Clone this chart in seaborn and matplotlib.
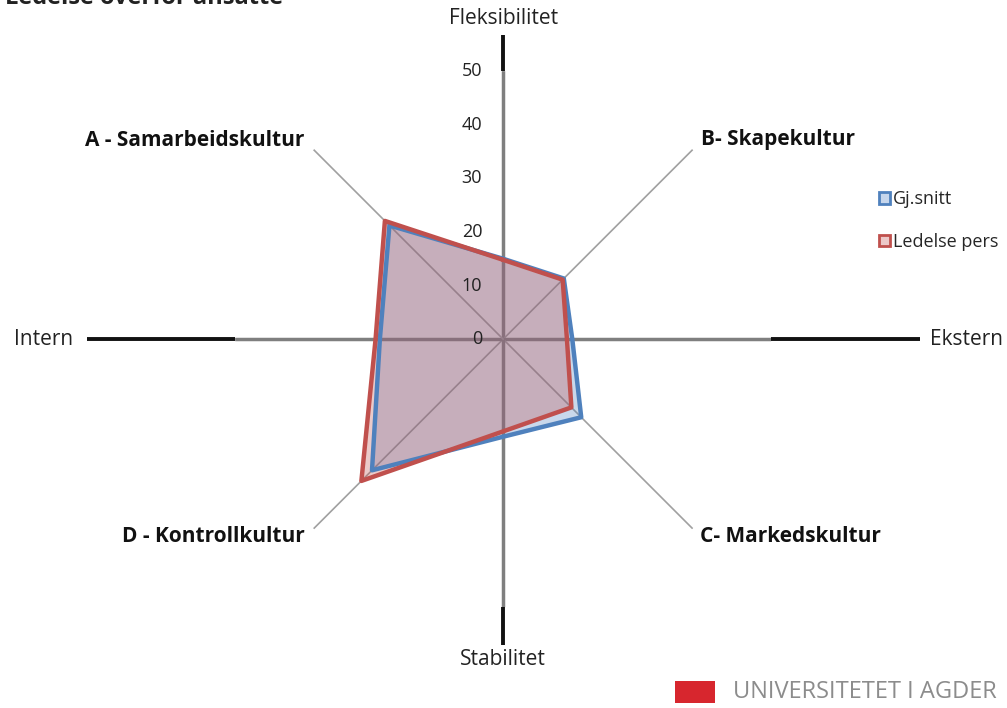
import numpy as np
import pandas as pd
import seaborn as sns
import matplotlib.pyplot as plt
from matplotlib.patches import Patch, Rectangle
from matplotlib.transforms import offset_copy

# data (clockwise from top)
spokes = ["Fleksibilitet", "B- Skapekultur", "Ekstern", "C- Markedskultur",
          "Stabilitet", "D - Kontrollkultur", "Intern", "A - Samarbeidskultur"]
gj_snitt = [15.0, 16.0, 12.9, 20.6, 18.2, 34.6, 23.0, 30.0]
ledelse_pers = [14.8, 15.7, 11.9, 18.0, 17.2, 37.4, 23.8, 31.2]
r_ticks = [0, 10, 20, 30, 40, 50]
series_names = ["Gj.snitt", "Ledelse pers"]

blue = "#4F81BD"
red = "#C0504D"

sns.set_style("white")
plt.rcParams["font.family"] = ["Open Sans", "DejaVu Sans"]

angles = np.linspace(0, 2 * np.pi, len(spokes), endpoint=False)

rows = []
for name, vals in zip(series_names, [gj_snitt, ledelse_pers]):
    for a, v in zip(list(angles) + [2 * np.pi], vals + vals[:1]):
        rows.append({"serie": name, "theta": a, "verdi": v})
df = pd.DataFrame(rows)

fig = plt.figure(figsize=(10.07, 7.08), dpi=100)
ax = fig.add_axes([0.2335, 0.1424, 0.5323, 0.7571], projection="polar")
ax.set_theta_zero_location("N")
ax.set_theta_direction(-1)
ax.set_ylim(0, 50)
ax.grid(False)
ax.spines["polar"].set_visible(False)
ax.set_xticks([])
ax.set_yticks([])

# spokes
for a in angles:
    if np.isclose(a % (np.pi / 2), 0):
        ax.plot([a, a], [0, 50], color="#7f7f7f", lw=2.5, zorder=1)
    else:
        ax.plot([a, a], [0, 50], color="#a0a0a0", lw=1.2, zorder=1)

# black axis extensions outside the radar
ext = {0: 56.8, np.pi: 57.0, np.pi / 2: 77.7, 3 * np.pi / 2: 77.7}
for a, r_end in ext.items():
    ax.plot([a, a], [50, r_end], color="#111111", lw=2.8, clip_on=False, solid_capstyle="butt")

# fills then outlines
for name, col in zip(series_names, [blue, red]):
    sub = df[df["serie"] == name]
    ax.fill(sub["theta"], sub["verdi"], color=col, alpha=0.3, lw=0, zorder=2)
sns.lineplot(data=df, x="theta", y="verdi", hue="serie", palette=[blue, red],
             sort=False, lw=3.2, legend=False, ax=ax, zorder=3)
ax.set_xlabel("")
ax.set_ylabel("")

# radial tick labels left of the vertical axis
tr = offset_copy(ax.transData, fig=fig, x=-21, y=0, units="dots")
for t in r_ticks:
    ax.text(0, t, str(t), transform=tr, ha="right", va="center", fontsize=13, color="#222222")

# axis names
name_kw = dict(ha="center", va="center", fontsize=15, color="#222222", clip_on=False)
ax.text(0, 59.9, "Fleksibilitet", **name_kw)
ax.text(np.pi, 59.7, "Stabilitet", **name_kw)
ax.text(3 * np.pi / 2, 85.8, "Intern", **name_kw)
ax.text(np.pi / 2, 86.4, "Ekstern", **name_kw)

# culture labels
lab_kw = dict(ha="center", va="center", fontsize=15, fontweight="bold", color="#111111")
fig.text(195 / 1007, 1 - 140 / 708, "A - Samarbeidskultur", **lab_kw)
fig.text(778 / 1007, 1 - 140 / 708, "B- Skapekultur", **lab_kw)
fig.text(790 / 1007, 1 - 536 / 708, "C- Markedskultur", **lab_kw)
fig.text(213 / 1007, 1 - 536 / 708, "D - Kontrollkultur", **lab_kw)

# cut-off title at the top
fig.text(5 / 1007, 1 - 4 / 708, "Ledelse overfor ansatte", ha="left", va="baseline",
         fontsize=17, fontweight="bold", color="#222222")

# legend
handles = [Patch(facecolor="#c6d6ec", edgecolor=blue, lw=2),
           Patch(facecolor="#ecc8c8", edgecolor=red, lw=2)]
fig.legend(handles, series_names, loc="upper left", bbox_to_anchor=(863 / 1007, 1 - 174 / 708),
           frameon=False, fontsize=13, handlelength=0.6, handleheight=0.6,
           handletextpad=0.15, labelspacing=1.35)

# university logo
fig.patches.append(Rectangle((675 / 1007, 1 - 703 / 708), 40 / 1007, 22 / 708,
                             transform=fig.transFigure, facecolor="#d7262e", edgecolor="none"))
fig.text(733 / 1007, 1 - 692 / 708, "UNIVERSITETET I AGDER", ha="left", va="center",
         fontsize=17, color="#8c8c8c")

fig.savefig("out.png", dpi=100)
